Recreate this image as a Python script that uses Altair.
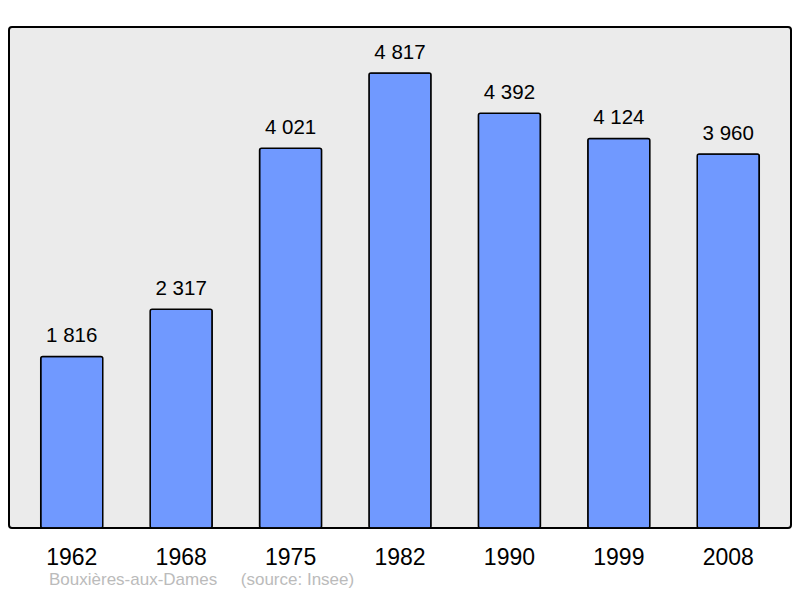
import altair as alt
import pandas as pd

years = ["1962", "1968", "1975", "1982", "1990", "1999", "2008"]
population = [1816, 2317, 4021, 4817, 4392, 4124, 3960]
labels = ["1 816", "2 317", "4 021", "4 817", "4 392", "4 124", "3 960"]

df = pd.DataFrame({"year": years, "pop": population, "label": labels})

x = alt.X("year:N", sort=years,
          scale=alt.Scale(paddingInner=0.433, paddingOuter=0.29),
          axis=alt.Axis(title=None, labelAngle=0, ticks=False, domain=False,
                        labelFontSize=23, labelFont="Liberation Sans",
                        labelColor="#000000", labelPadding=18, grid=False))
y = alt.Y("pop:Q", scale=alt.Scale(domain=[0, 5304], nice=False, zero=True),
          axis=None)

bars = alt.Chart(df).mark_bar(
    color="#7099FF", stroke="#000000", strokeWidth=1.5, cornerRadius=2
).encode(x=x, y=y)

text = alt.Chart(df).mark_text(
    dy=-20, baseline="middle", align="center", fontSize=20.5,
    font="Liberation Sans", color="#000000"
).encode(x=x, y=y, text="label:N")

chart = (bars + text).properties(
    width=782, height=501,
    autosize=alt.AutoSizeParams(type="none"),
    padding={"left": 1, "top": 19, "right": 1, "bottom": 62},
    title=alt.TitleParams(
        "Bouxières-aux-Dames\u00a0\u00a0\u00a0\u00a0\u00a0(source: Insee)",
        orient="bottom", anchor="start", dx=40, offset=3,
        fontSize=17, font="Liberation Sans", fontWeight="normal",
        color="#BBBBBB", frame="group", baseline="top"
    )
).configure_view(
    fill="#EBEBEB", stroke="#000000", strokeWidth=2, cornerRadius=3
)

chart.save("out.html", embed_options={"renderer": "svg", "actions": False})
